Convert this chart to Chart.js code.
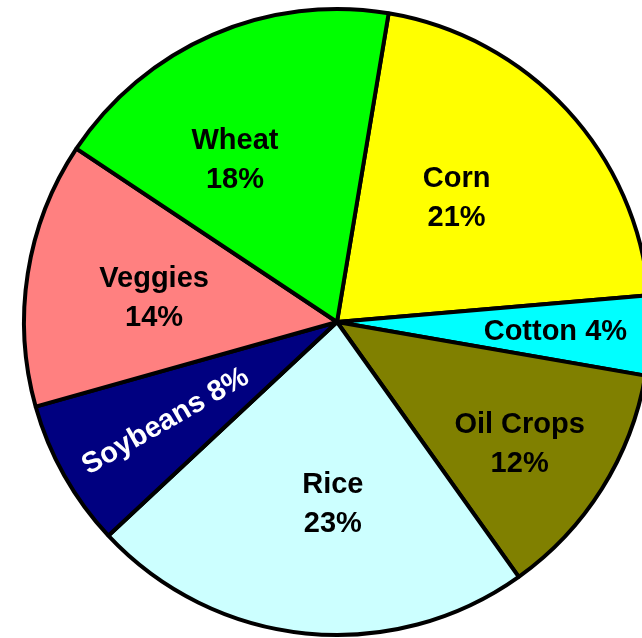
<!DOCTYPE html>
<html>
<head>
<meta charset="utf-8">
<script src="https://cdn.jsdelivr.net/npm/chart.js@4/dist/chart.umd.min.js"></script>
<style>
  html, body { margin: 0; padding: 0; background: #fff; overflow: hidden; }
  body { width: 642px; height: 638px; position: relative; }
  #miTarta { position: absolute; left: 7px; top: -8px; }
</style>
</head>
<body>
<canvas id="miTarta" width="660" height="660"></canvas>
<script>
// datos (porcentajes), en sentido horario desde Corn
const cultivos = ['Corn', 'Cotton', 'Oil Crops', 'Rice', 'Soybeans', 'Veggies', 'Wheat'];
const porcentajes = [21.0, 4.1, 12.4, 22.9, 7.6, 13.7, 18.3];
const colores = ['#FFFF00', '#00FFFF', '#808000', '#CCFFFF', '#000080', '#FF8080', '#00FF00'];

// etiquetas dentro de cada trozo
const etiquetas = {
  id: 'etiquetas',
  afterDatasetsDraw(chart) {
    const ctx = chart.ctx;
    const meta = chart.getDatasetMeta(0);
    // fraccion del radio y ajuste de angulo (grados) para cada etiqueta
    const ajustes = [
      {f: 0.556, da: -3.9}, {f: 0.698, da: -0.7}, {f: 0.698, da: 1.1},
      {f: 0.575, da: -4.4}, {f: 0.632, da: -0.5}, {f: 0.59, da: -1},
      {f: 0.616, da: -8.5}
    ];
    ctx.save();
    ctx.font = 'bold 29px "Liberation Sans", Arial, sans-serif';
    ctx.textAlign = 'center';
    ctx.textBaseline = 'middle';
    meta.data.forEach((arc, i) => {
      const a = (arc.startAngle + arc.endAngle) / 2 + ajustes[i].da * Math.PI / 180;
      const r = arc.outerRadius * ajustes[i].f;
      const x = arc.x + Math.cos(a) * r;
      const y = arc.y + Math.sin(a) * r + 3;
      const pct = Math.round(porcentajes[i]) + '%';
      const nombre = cultivos[i];
      ctx.fillStyle = nombre === 'Soybeans' ? '#fff' : '#000';
      if (nombre === 'Soybeans') {
        ctx.save();
        ctx.translate(x, y - 2);
        ctx.rotate(a - Math.PI);
        ctx.fillText(nombre + ' ' + pct, 0, 0);
        ctx.restore();
      } else if (nombre === 'Cotton') {
        ctx.fillText(nombre + ' ' + pct, x, y);
      } else {
        ctx.fillText(nombre, x, y - 20);
        ctx.fillText(pct, x, y + 19);
      }
    });
    ctx.restore();
  }
};

new Chart(document.getElementById('miTarta'), {
  type: 'pie',
  data: {
    labels: cultivos,
    datasets: [{
      data: porcentajes,
      backgroundColor: colores,
      borderColor: '#000',
      borderWidth: 4
    }]
  },
  options: {
    responsive: false,
    animation: false,
    rotation: 9.5,
    layout: { padding: 15 },
    plugins: {
      legend: { display: false },
      tooltip: { enabled: false }
    }
  },
  plugins: [etiquetas]
});
</script>
</body>
</html>
